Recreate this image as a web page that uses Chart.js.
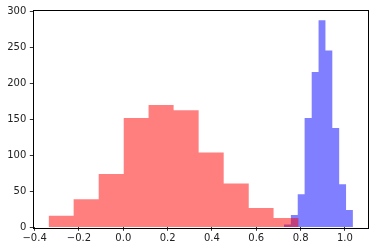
<!DOCTYPE html>
<html lang="en">
<head>
    <meta charset="UTF-8">
    <title>Histogram</title>
    <script src="https://cdn.jsdelivr.net/npm/chart.js@4/dist/chart.umd.min.js"></script>
    <style>
        body { margin: 0; background: #fff; }
        #wrap { width: 375px; height: 251px; }
    </style>
</head>
<body>
    <div id="wrap"><canvas id="hist"></canvas></div>

    <script>
        // red histogram: bin edges and counts
        const redEdges = [-0.337, -0.224, -0.111, 0.002, 0.114, 0.227, 0.340, 0.453, 0.566, 0.678, 0.791];
        const redCounts = [16, 39, 74, 152, 170, 163, 104, 61, 27, 13];

        // blue histogram
        const blueEdges = [0.725, 0.756, 0.787, 0.818, 0.850, 0.881, 0.912, 0.943, 0.974, 1.005, 1.036];
        const blueCounts = [4, 17, 46, 152, 216, 288, 246, 138, 60, 24];

        // axis ranges / ticks
        const xRange = [-0.406, 1.104];
        const xStep = 0.2;
        const yRange = [0, 303];
        const yStep = 50;

        // edges + counts -> stepped outline: each point holds its count until the next edge
        function stepPoints(edges, counts) {
            const pts = counts.map((c, i) => ({ x: edges[i], y: c }));
            pts.push({ x: edges[edges.length - 1], y: counts[counts.length - 1] });
            return pts;
        }

        // matplotlib-like box around the plot area
        const frame = {
            id: 'frame',
            afterDraw(chart) {
                const a = chart.chartArea;
                const ctx = chart.ctx;
                ctx.save();
                ctx.strokeStyle = '#000';
                ctx.lineWidth = 1;
                ctx.strokeRect(Math.round(a.left) + 0.5, Math.round(a.top) + 0.5,
                    Math.round(a.right - a.left), Math.round(a.bottom - a.top));
                ctx.restore();
            }
        };

        const font = { family: 'DejaVu Sans', size: 10 };
        const minus = s => String(s).replace('-', '\u2212');

        new Chart(document.getElementById('hist'), {
            type: 'line',
            data: {
                datasets: [
                    {
                        label: 'red',
                        data: stepPoints(redEdges, redCounts),
                        stepped: 'before',
                        fill: 'origin',
                        backgroundColor: 'rgba(255, 0, 0, 0.5)',
                        borderColor: 'rgba(0, 0, 0, 0)',
                        borderWidth: 0,
                        pointRadius: 0
                    },
                    {
                        label: 'blue',
                        data: stepPoints(blueEdges, blueCounts),
                        stepped: 'before',
                        fill: 'origin',
                        backgroundColor: 'rgba(0, 0, 255, 0.5)',
                        borderColor: 'rgba(0, 0, 0, 0)',
                        borderWidth: 0,
                        pointRadius: 0
                    }
                ]
            },
            options: {
                responsive: true,
                maintainAspectRatio: false,
                animation: false,
                layout: { padding: { left: 0, right: 7, top: 9.5, bottom: 0 } },
                plugins: {
                    legend: { display: false },
                    tooltip: { enabled: false }
                },
                scales: {
                    x: {
                        type: 'linear',
                        min: xRange[0],
                        max: xRange[1],
                        afterFit: s => { s.height = 23.7; },
                        grid: { drawOnChartArea: false, drawTicks: true, tickLength: 3.5, tickColor: '#000', tickWidth: 0.8 },
                        border: { display: false },
                        ticks: {
                            stepSize: xStep,
                            includeBounds: false,
                            autoSkip: false,
                            maxRotation: 0,
                            padding: 2,
                            color: '#222',
                            font: font,
                            callback: v => minus(v.toFixed(1))
                        }
                    },
                    y: {
                        min: yRange[0],
                        max: yRange[1],
                        afterFit: s => { s.width = 33.3; },
                        grid: { drawOnChartArea: false, drawTicks: true, tickLength: 3.5, tickColor: '#000', tickWidth: 0.8 },
                        border: { display: false },
                        ticks: {
                            stepSize: yStep,
                            includeBounds: false,
                            padding: 3.5,
                            color: '#222',
                            font: font,
                            callback: v => String(Math.round(v))
                        }
                    }
                }
            },
            plugins: [frame]
        });
    </script>
</body>
</html>
